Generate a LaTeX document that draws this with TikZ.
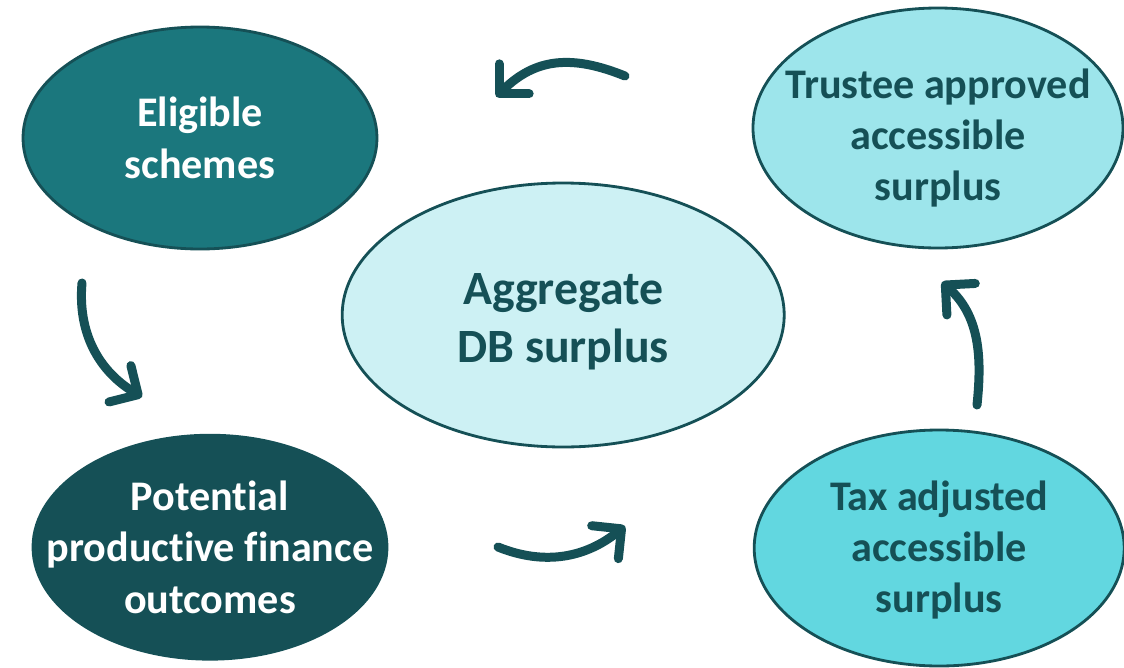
\documentclass[tikz,border=0pt]{standalone}
\usepackage{fontspec}
\setmainfont{Carlito}[Ligatures=NoCommon]
\usepackage{xcolor}
\usepackage{tikz}
\usetikzlibrary{shapes.geometric, arrows.meta}
\definecolor{DBDark}{RGB}{21,80,86}
\definecolor{DBTeal}{RGB}{27,119,125}
\definecolor{DBAqua}{RGB}{98,215,224}
\definecolor{DBSky}{RGB}{157,229,235}
\definecolor{DBPale}{RGB}{205,241,244}

\begin{document}
\begin{tikzpicture}[
          blob/.style={ellipse, draw=DBDark, line width=2pt, inner sep=0pt},
          lbl/.style={align=center, font=\bfseries\fontsize{30}{36.5}\selectfont,
                      text=DBDark},
          arr/.style={-{Straight Barb[length=5.3mm, width=10.6mm, round]},
                      draw=DBDark, line width=6.4pt, line cap=round}
        ]
        \useasboundingbox (0,0) rectangle (28.1,-16.675);

        % the five stages, text set as a centre label
        \node[blob, fill=DBTeal, minimum width=8.85cm, minimum height=5.55cm,
              label={[lbl, text=white]center:Eligible\\schemes}]
              (elig) at (5.0,-3.45) {};
        \node[blob, fill=DBSky, minimum width=9.25cm, minimum height=6.0cm,
              label={[lbl, yshift=-0.25cm]center:Trustee approved\\accessible\\surplus}]
              (trust) at (23.45,-3.2) {};
        \node[blob, fill=DBPale, minimum width=11.05cm, minimum height=6.6cm,
              label={[lbl, yshift=-0.17cm, font=\bfseries\fontsize{34}{41}\selectfont]center:Aggregate\\DB surplus}]
              (agg) at (14.08,-7.875) {};
        \node[blob, fill=DBDark, minimum width=8.85cm, minimum height=5.6cm,
              label={[lbl, text=white]center:Potential\\productive finance\\outcomes}]
              (pot) at (5.25,-13.68) {};
        \node[blob, fill=DBAqua, minimum width=9.25cm, minimum height=5.9cm,
              label={[lbl, yshift=-0.05cm]center:Tax adjusted\\accessible\\surplus}]
              (tax) at (23.48,-13.7) {};

        % curved arrows around the centre
        \coordinate (topA) at (15.625,-1.9);
        \coordinate (topB) at (12.4,-2.425);
        \coordinate (leftA) at (2.05,-7.075);
        \coordinate (leftB) at (3.55,-9.925);
        \coordinate (botA) at (12.45,-13.675);
        \coordinate (botB) at (15.625,-13.15);
        \coordinate (rightA) at (24.425,-10.125);
        \coordinate (rightB) at (23.55,-7.05);

        \draw[arr] (topA) to[out=158, in=45, looseness=1.1] (topB);
        \draw[arr] (leftA) to[out=265, in=149] (leftB);
        \draw[arr] (botA) to[out=-22, in=219] (botB);
        \draw[arr] (rightA) to[out=84, in=318] (rightB);
      \end{tikzpicture}
\end{document}
